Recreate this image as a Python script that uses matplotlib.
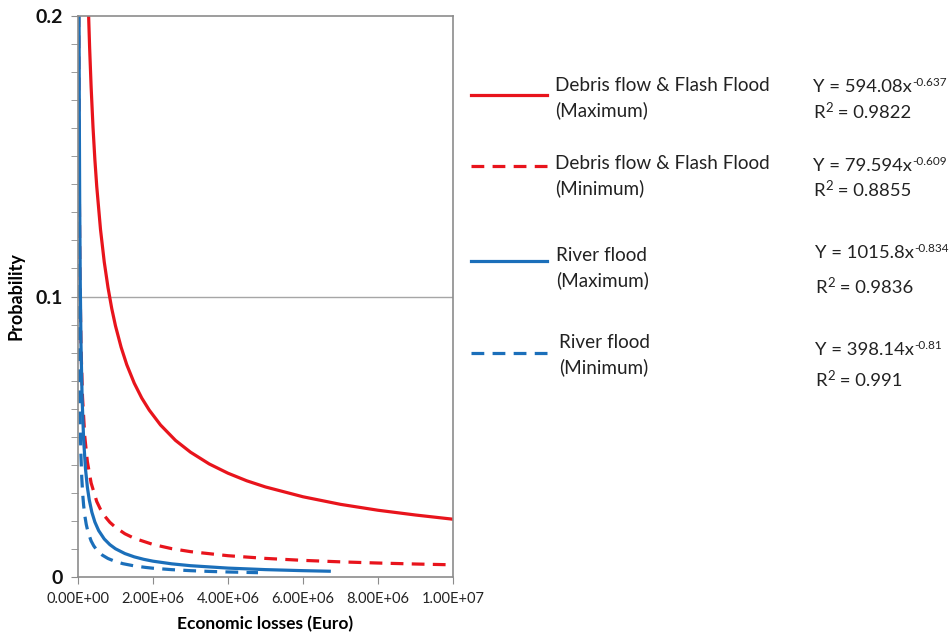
import matplotlib
matplotlib.use("Agg")
import matplotlib.pyplot as plt
from matplotlib.lines import Line2D
from matplotlib.ticker import MultipleLocator, FixedLocator

plt.rcParams['font.family'] = ['Lato', 'DejaVu Sans']

# ---- data ----
debris_max_x = [2.8e5, 3.1e5, 3.5e5, 4e5, 4.5e5, 5e5, 6e5, 7e5, 8e5, 9e5, 1e6, 1.15e6,
                1.3e6, 1.5e6, 1.7e6, 1.9e6, 2.2e6, 2.6e6, 3e6, 3.5e6, 4e6, 4.5e6, 5e6,
                6e6, 7e6, 8e6, 9e6, 1e7]
debris_max_y = [0.2014, 0.1887, 0.1747, 0.1604, 0.1488, 0.1392, 0.1239, 0.1123, 0.1032,
                0.0957, 0.0895, 0.0819, 0.0757, 0.0691, 0.0638, 0.0595, 0.0542, 0.0487,
                0.0445, 0.0403, 0.0370, 0.0343, 0.0321, 0.0286, 0.0259, 0.0238, 0.0221,
                0.0206]

debris_min_x = [1.85e4, 3e4, 5e4, 8e4, 1.2e5, 1.8e5, 2.5e5, 3.5e5, 5e5, 6e5, 7e5, 8.5e5,
                1e6, 1.25e6, 1.5e6, 2e6, 2.5e6, 3e6, 4e6, 5e6, 6e6, 7e6, 8e6, 9e6, 1e7]
debris_min_y = [0.2006, 0.1494, 0.1095, 0.0822, 0.0642, 0.0502, 0.0411, 0.0335, 0.0269,
                0.0241, 0.0219, 0.01949, 0.0177, 0.01542, 0.0138, 0.0116, 0.0101,
                0.00904, 0.00759, 0.00663, 0.00593, 0.00540, 0.00498, 0.00463, 0.00434]

river_max_x = [2.75e4, 3.5e4, 4.5e4, 6e4, 8e4, 1.1e5, 1.5e5, 2e5, 2.5e5, 3e5, 3.7e5,
               4.5e5, 5.5e5, 7e5, 8.5e5, 1e6, 1.25e6, 1.5e6, 1.75e6, 2e6, 2.5e6, 3e6,
               4e6, 5e6, 6e6, 6.7e6]
river_max_y = [0.2016, 0.1648, 0.1336, 0.1051, 0.0827, 0.0634, 0.0490, 0.0385, 0.0320,
               0.0275, 0.02307, 0.0196, 0.01657, 0.01355, 0.01153, 0.01006, 0.00836,
               0.00718, 0.00631, 0.00564, 0.00469, 0.00403, 0.00317, 0.00263, 0.00226,
               0.00206]

river_min_x = [1.17e4, 1.6e4, 2.2e4, 3e4, 4e4, 5.5e4, 7.5e4, 1e5, 1.25e5, 1.5e5, 1.8e5,
               2.2e5, 2.7e5, 3.5e5, 4.2e5, 5e5, 6.5e5, 8e5, 1e6, 1.2e6, 1.5e6, 1.8e6,
               2e6, 2.5e6, 3e6, 3.5e6, 4e6, 4.8e6]
river_min_y = [0.2018, 0.1566, 0.1210, 0.0941, 0.0745, 0.0576, 0.0448, 0.0355, 0.0296,
               0.02555, 0.0220, 0.01874, 0.01587, 0.01286, 0.0111, 0.00963, 0.00779,
               0.00659, 0.0055, 0.00474, 0.00396, 0.00342, 0.00313, 0.00262, 0.00226,
               0.00199, 0.00179, 0.00154]

x_ticks = [0, 2e6, 4e6, 6e6, 8e6, 1e7]
x_tick_labels = ["0.00E+00", "2.00E+06", "4.00E+06", "6.00E+06", "8.00E+06", "1.00E+07"]
y_ticks = [0, 0.1, 0.2]
y_tick_labels = ["0", "0.1", "0.2"]

legend_names = ["Debris flow & Flash Flood\n(Maximum)", "Debris flow & Flash Flood\n(Minimum)",
                "River flood\n(Maximum)", "River flood\n(Minimum)"]
eq_bases = ["Y = 594.08x", "Y = 79.594x", "Y = 1015.8x", "Y = 398.14x"]
eq_exps = ["-0.637", "-0.609", "-0.834", "-0.81"]
r2_values = [" = 0.9822", " = 0.8855", " = 0.9836", " = 0.991"]

RED = '#e8141c'
BLUE = '#1b6fba'

W, H = 951, 634
fig = plt.figure(figsize=(W / 100, H / 100), dpi=100)
ax = fig.add_axes([78 / W, 1 - 577 / H, (453 - 78) / W, (577 - 16) / H])

lw = 2.3
dash = (0, (4, 2.6))
ax.plot(debris_max_x, debris_max_y, color=RED, lw=lw, solid_joinstyle='round')
ax.plot(debris_min_x, debris_min_y, color=RED, lw=lw, linestyle=dash)
ax.plot(river_max_x, river_max_y, color=BLUE, lw=lw, solid_joinstyle='round')
ax.plot(river_min_x, river_min_y, color=BLUE, lw=lw, linestyle=dash)

ax.set_xlim(0, 1e7)
ax.set_ylim(0, 0.2)
ax.xaxis.set_major_locator(FixedLocator(x_ticks))
ax.set_xticklabels(x_tick_labels)
ax.yaxis.set_major_locator(FixedLocator(y_ticks))
ax.set_yticklabels(y_tick_labels)
ax.yaxis.set_minor_locator(MultipleLocator(0.01))
ax.axhline(0.1, color='#a6a6a6', lw=1.0, zorder=0)

for s in ax.spines.values():
    s.set_color('#8c8c8c')
    s.set_linewidth(1.2)
ax.tick_params(axis='x', direction='out', length=5, color='#8c8c8c', labelsize=10.5,
               pad=6, labelcolor='#222222')
ax.tick_params(axis='y', which='major', direction='out', length=5, color='#8c8c8c',
               labelsize=14, pad=6, labelcolor='#111111')
ax.tick_params(axis='y', which='minor', direction='out', length=5, color='#8c8c8c')
for lab in ax.get_yticklabels():
    lab.set_fontweight('bold')

ax.set_xlabel("Economic losses (Euro)", fontsize=12.5, fontweight='bold', labelpad=7)
ax.set_ylabel("Probability", fontsize=13, fontweight='bold', labelpad=8)

# ---- legend block ----
styles = [(RED, '-'), (RED, dash), (BLUE, '-'), (BLUE, dash)]
line_y = [95, 166, 261, 353]
name_y = [98, 176, 268, 355]
eq_y = [87, 166, 253, 350]
r2_y = [113, 191, 288, 381]
name_x = [555, 555, 556, 559]
eq_x = [813, 813, 815, 815]
TXT = '#222222'
FS = 13.3
SUP = 8.5

def fx(px):
    return px / W

def fy(py):
    return 1 - py / H

renderer = fig.canvas.get_renderer()
for i in range(4):
    c, ls = styles[i]
    fig.add_artist(Line2D([fx(471), fx(547)], [fy(line_y[i]), fy(line_y[i])],
                          color=c, lw=lw, linestyle=ls, transform=fig.transFigure))
    fig.text(fx(name_x[i]), fy(name_y[i]), legend_names[i], fontsize=13.6, va='center',
             ha='left', color=TXT, linespacing=1.5)
    # equation with superscript exponent
    t = fig.text(fx(eq_x[i]), fy(eq_y[i]), eq_bases[i], fontsize=FS, va='center',
                 ha='left', color=TXT)
    bb = t.get_window_extent(renderer)
    fig.text(bb.x1 / W + 0.5 / W, fy(eq_y[i] + 1), eq_exps[i], fontsize=SUP, va='bottom',
             ha='left', color=TXT)
    # R^2 line
    r = fig.text(fx(eq_x[i]), fy(r2_y[i]), "R", fontsize=FS, va='center', ha='left',
                 color=TXT)
    rb = r.get_window_extent(renderer)
    s2 = fig.text(rb.x1 / W + 0.5 / W, fy(r2_y[i] + 1), "2", fontsize=9.5, va='bottom',
                  ha='left', color=TXT)
    sb = s2.get_window_extent(renderer)
    fig.text(sb.x1 / W, fy(r2_y[i]), r2_values[i], fontsize=FS, va='center', ha='left',
             color=TXT)

fig.savefig("out.png", dpi=100)
